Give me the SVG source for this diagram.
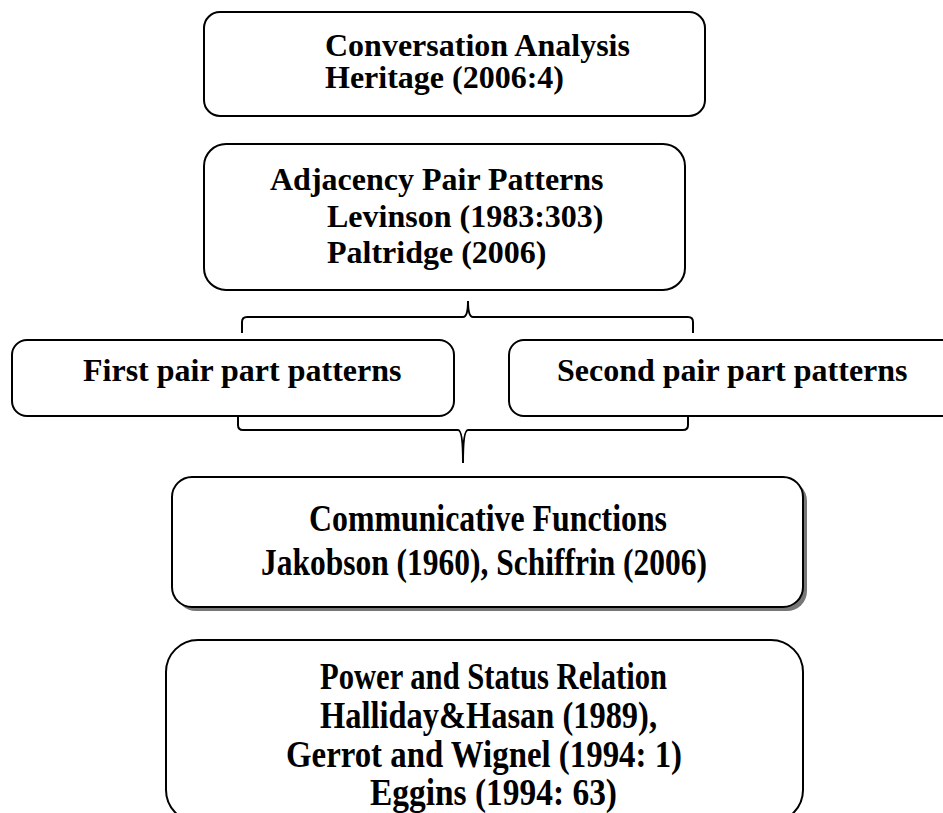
<svg xmlns="http://www.w3.org/2000/svg" width="943" height="813" viewBox="0 0 943 813">
<style>
.box{fill:#fff;stroke:#000;stroke-width:2}
.t{font-family:"Liberation Serif","Times New Roman",serif;font-weight:bold;font-size:32px;fill:#000}
.c{font-family:"Liberation Serif","Times New Roman",serif;font-weight:bold;font-size:37px;fill:#000}
.br{fill:none;stroke:#000;stroke-width:2}
</style>
<rect width="943" height="813" fill="#fff"/>
<g id="connectors">
<path class="br" d="M242,333 V322 Q242,317 247,317 H463 Q468,317 468,301 Q468,317 473,317 H688 Q693,317 693,322 V333"/>
<path class="br" d="M238,416 V425 Q238,430 243,430 H458 Q463,430 463,463 Q463,430 468,430 H683 Q688,430 688,425 V416"/>
</g>
<g id="conversation">
<rect class="box" x="204" y="12" width="501" height="104" rx="16"/>
<text class="t" x="325" y="56">Conversation Analysis</text>
<text class="t" x="325" y="88">Heritage (2006:4)</text>
</g>
<g id="adjacency">
<rect class="box" x="204" y="144" width="481" height="146" rx="22"/>
<text class="t" x="270" y="190">Adjacency Pair Patterns</text>
<text class="t" x="327" y="227">Levinson (1983:303)</text>
<text class="t" x="327" y="263">Paltridge (2006)</text>
</g>
<g id="first">
<rect class="box" x="12" y="340" width="442" height="76" rx="15"/>
<text class="t" x="83" y="381">First pair part patterns</text>
</g>
<g id="second">
<rect class="box" x="509" y="340" width="460" height="76" rx="15"/>
<text class="t" x="557" y="381">Second pair part patterns</text>
</g>
<g id="communicative">
<rect x="176" y="481" width="631" height="130" rx="20" fill="#777"/>
<rect class="box" x="172" y="477" width="631" height="130" rx="20"/>
<text class="c" x="309" y="531" textLength="358" lengthAdjust="spacingAndGlyphs">Communicative Functions</text>
<text class="c" x="261" y="575" textLength="446" lengthAdjust="spacingAndGlyphs">Jakobson (1960), Schiffrin (2006)</text>
</g>
<g id="power">
<rect class="box" x="166" y="640" width="637" height="182" rx="32"/>
<text class="c" x="320" y="689" textLength="347" lengthAdjust="spacingAndGlyphs">Power and Status Relation</text>
<text class="c" x="320" y="728" textLength="337" lengthAdjust="spacingAndGlyphs">Halliday&amp;Hasan (1989),</text>
<text class="c" x="286" y="767" textLength="396" lengthAdjust="spacingAndGlyphs">Gerrot and Wignel (1994: 1)</text>
<text class="c" x="370" y="805" textLength="247" lengthAdjust="spacingAndGlyphs">Eggins (1994: 63)</text>
</g>
</svg>
